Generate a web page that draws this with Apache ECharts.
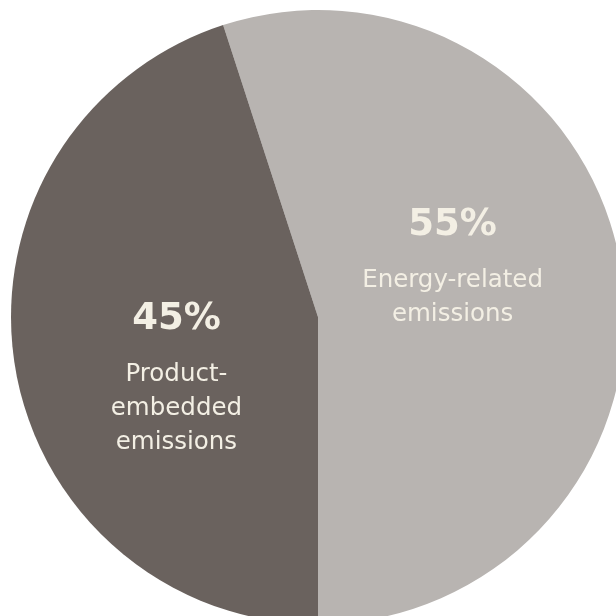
<!DOCTYPE html>
<html>
<head>
<meta charset="utf-8">
<script src="https://cdn.jsdelivr.net/npm/echarts@6/dist/echarts.min.js"></script>
<style>html,body{margin:0;padding:0;background:#fff}#c{width:616px;height:616px}</style>
</head>
<body>
<div id="c"></div>
<script>
const categories = ["Energy-related emissions", "Product-embedded emissions"];
const labelLines = [["Energy-related", "emissions"], ["Product-", "embedded", "emissions"]];
const values = [55, 45];
const colors = ["#b8b4b1", "#6a625e"];

const chart = echarts.init(document.getElementById('c'), null, {renderer: 'canvas'});
const labelShift = [[-20, -33], [13, 29]];
chart.setOption({
  animation: false,
  series: [{
    type: 'pie',
    center: [318, 317],
    radius: 307,
    startAngle: 108,
    clockwise: true,
    silent: true,
    itemStyle: {borderWidth: 0},
    data: categories.map((c, i) => ({
      name: c,
      value: values[i],
      itemStyle: {color: colors[i]}
    })),
    label: {
      show: true,
      position: 'inside',
      color: '#f3efe4',
      fontFamily: 'DejaVu Sans',
      align: 'center',
      formatter: (p) => '{p|' + p.value + '%}\n' + labelLines[p.dataIndex].map(t => '{n|' + t + '}').join('\n'),
      rich: {
        p: {fontSize: 37, fontWeight: 'bold', lineHeight: 76, color: '#f3efe4', fontFamily: 'DejaVu Sans'},
        n: {fontSize: 24.5, lineHeight: 34, color: '#f3efe4', fontFamily: 'DejaVu Sans'}
      }
    },
    labelLayout: (params) => ({dx: labelShift[params.dataIndex][0], dy: labelShift[params.dataIndex][1]}),
    labelLine: {show: false}
  }]
});
</script>
</body>
</html>
